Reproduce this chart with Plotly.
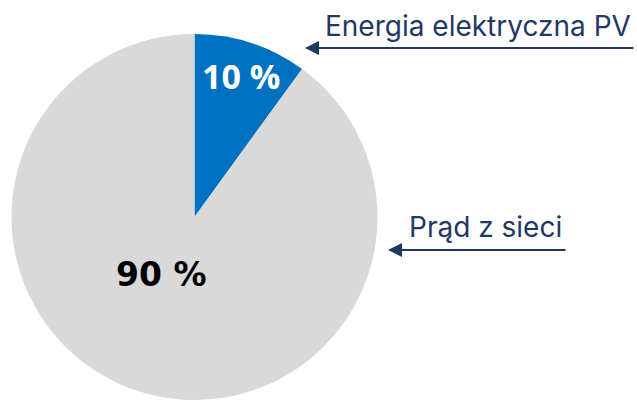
import plotly.graph_objects as go

# ------------------------------------------------------
# data
# ------------------------------------------------------
labels = ["Energia elektryczna PV", "Prąd z sieci"]
shares = [10, 90]
colors = ["#0070C0", "#D9D9D9"]
value_fonts = [
    dict(family="Open Sans", size=34, color="white"),
    dict(family="DejaVu Sans", size=33, color="black"),
]

W, H = 637, 401
NAVY = "#1F3864"


def px(x, y):
    # pixel position (from top-left) -> paper coords
    return x / W, 1 - y / H


fig = go.Figure()
fig.add_trace(go.Pie(
    labels=labels,
    values=shares,
    marker=dict(colors=colors, line=dict(width=0)),
    sort=False,
    direction="clockwise",
    rotation=0,
    textinfo="none",
    hoverinfo="label+percent",
    showlegend=False,
    domain=dict(x=[11 / W, 378 / W], y=[1 / H, 367 / H]),
))

# percent labels inside the slices
value_pos = [(241, 76), (161, 274)]
for v, f, (x, y) in zip(shares, value_fonts, value_pos):
    xp, yp = px(x, y)
    fig.add_annotation(
        x=xp, y=yp, xref="paper", yref="paper",
        text=f"<b>{v} %</b>", showarrow=False,
        font=f, xanchor="center", yanchor="middle",
    )

# category captions with arrows
caption_pos = [(633, 26), (564, 227)]
arrow_pos = [(305, 48, 330), (388, 250, 179)]
for lab, (x, y), (hx, hy, length) in zip(labels, caption_pos, arrow_pos):
    xp, yp = px(x, y)
    fig.add_annotation(
        x=xp, y=yp, xref="paper", yref="paper",
        text=lab, showarrow=False,
        font=dict(family="Inter", size=28, color=NAVY),
        xanchor="right", yanchor="middle",
    )
    xp, yp = px(hx, hy)
    fig.add_annotation(
        x=xp, y=yp, xref="paper", yref="paper",
        text="", showarrow=True,
        ax=length, ay=0,
        arrowhead=2, arrowsize=1.4, arrowwidth=2, arrowcolor=NAVY,
    )

fig.update_layout(
    width=W, height=H,
    margin=dict(l=0, r=0, t=0, b=0),
    paper_bgcolor="white",
    plot_bgcolor="white",
)

fig.write_html(
    "out.html",
    config={"displayModeBar": False},
    post_script="document.body.style.margin='0';",
)
